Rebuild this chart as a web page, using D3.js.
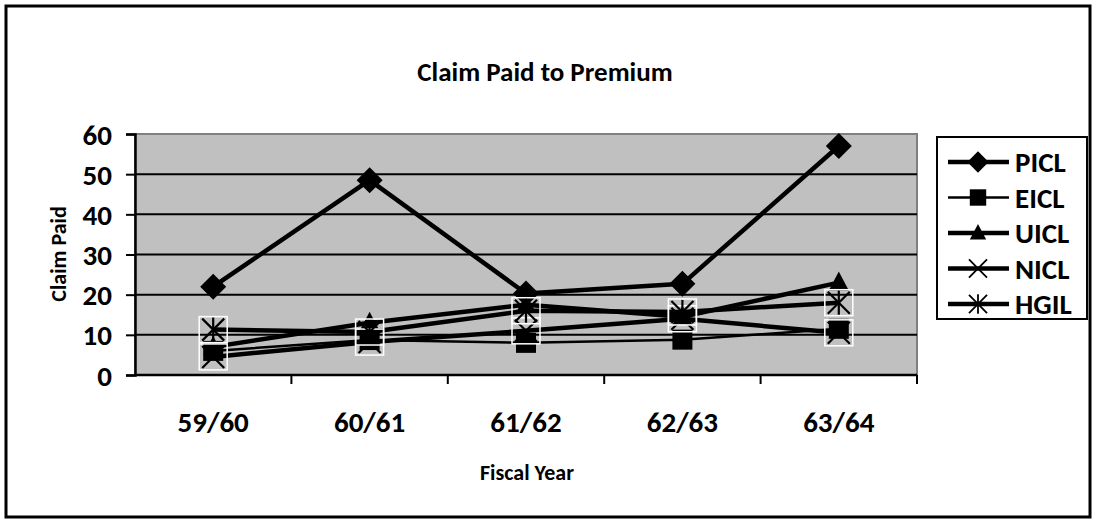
<!DOCTYPE html>
<html>
<head>
<meta charset="utf-8">
<script src="https://cdn.jsdelivr.net/npm/d3@7"></script>
<style>
  html, body { margin: 0; padding: 0; background: #fff; }
  svg { display: block; }
  text { font-family: Carlito, Calibri, Lato, "Liberation Sans", sans-serif; font-weight: bold; fill: #000; }
</style>
</head>
<body>
<svg id="chart" width="1096" height="523"></svg>
<script>
// Fiscal years and claim paid ratios per insurer
const years = ["59/60", "60/61", "61/62", "62/63", "63/64"];
const PICL = [22, 48.5, 20.3, 22.7, 57];
const EICL = [6, 8.7, 8, 8.8, 11.5];
const UICL = [7, 13, 17.5, 14.5, 23];
const NICL = [4.5, 8.2, 11, 14, 10.5];
const HGIL = [11.3, 10.7, 16, 15.7, 18];
const yTicks = [0, 10, 20, 30, 40, 50, 60];

const series = [
  { name: "PICL", values: PICL, marker: "diamond", width: 4.5 },
  { name: "EICL", values: EICL, marker: "square", width: 2.5 },
  { name: "UICL", values: UICL, marker: "triangle", width: 4.5 },
  { name: "NICL", values: NICL, marker: "x", width: 4.5 },
  { name: "HGIL", values: HGIL, marker: "star", width: 4.5 }
];

const svg = d3.select("#chart");
const plot = { left: 135, right: 917, top: 134, bottom: 375 };

// outer chart frame
svg.append("rect").attr("x", 6).attr("y", 6).attr("width", 1084).attr("height", 511)
  .attr("fill", "#fff").attr("stroke", "#000").attr("stroke-width", 3);

svg.append("text").attr("x", 545).attr("y", 81).attr("text-anchor", "middle")
  .style("font-size", "27px").text("Claim Paid to Premium");

const x = d3.scaleBand().domain(years).range([plot.left, plot.right]);
const y = d3.scaleLinear().domain([0, 60]).range([plot.bottom, plot.top]);

// plot area background
svg.append("rect").attr("x", plot.left).attr("y", plot.top)
  .attr("width", plot.right - plot.left).attr("height", plot.bottom - plot.top)
  .attr("fill", "#c0c0c0").attr("stroke", "#808080").attr("stroke-width", 2);

// horizontal gridlines
svg.append("g").selectAll("line").data(yTicks.filter(d => d > 0 && d < 60)).join("line")
  .attr("x1", plot.left).attr("x2", plot.right)
  .attr("y1", d => y(d)).attr("y2", d => y(d))
  .attr("stroke", "#000").attr("stroke-width", 2);

// y axis
const yAxis = svg.append("g").attr("transform", `translate(${plot.left},0)`)
  .call(d3.axisLeft(y).tickValues(yTicks).tickSize(9).tickPadding(14));
yAxis.select(".domain").attr("stroke-width", 2.5);
yAxis.selectAll(".tick line").attr("stroke-width", 2);
yAxis.selectAll(".tick text").style("font-size", "29px").attr("dy", "0.35em");

// x axis: ticks sit on category boundaries
const xAxis = svg.append("g").attr("transform", `translate(0,${plot.bottom})`);
xAxis.append("line").attr("x1", plot.left).attr("x2", plot.right)
  .attr("stroke", "#000").attr("stroke-width", 2.5);
xAxis.selectAll("line.tk").data(years).join("line").attr("class", "tk")
  .attr("x1", d => x(d) + x.bandwidth()).attr("x2", d => x(d) + x.bandwidth())
  .attr("y1", 0).attr("y2", 9).attr("stroke", "#000").attr("stroke-width", 2);
xAxis.selectAll("text").data(years).join("text")
  .attr("x", d => x(d) + x.bandwidth() / 2).attr("y", 57)
  .attr("text-anchor", "middle").style("font-size", "29px").text(d => d);

svg.append("text").attr("x", 527).attr("y", 480).attr("text-anchor", "middle")
  .style("font-size", "22px").text("Fiscal Year");
svg.append("text").attr("transform", "translate(66,254) rotate(-90)")
  .attr("text-anchor", "middle").style("font-size", "22px").text("Claim Paid");

// marker drawing
function drawMarker(g, type, boxed) {
  if (type === "diamond") {
    g.append("path").attr("d", "M0,-13L13,0L0,13L-13,0Z").attr("fill", "#000");
  } else if (type === "square") {
    g.append("rect").attr("x", -10).attr("y", -10).attr("width", 20).attr("height", 20).attr("fill", "#000");
  } else if (type === "triangle") {
    g.append("path").attr("d", "M0,-11L10,8L-10,8Z").attr("fill", "#000");
  } else {
    if (boxed) {
      g.append("rect").attr("x", -14).attr("y", -13).attr("width", 28).attr("height", 26)
        .attr("fill", "none").attr("stroke", "#fff").attr("stroke-width", 1.5);
    }
    const s = 11;
    g.append("path").attr("d", `M${-s},${-s}L${s},${s}M${-s},${s}L${s},${-s}`)
      .attr("stroke", "#000").attr("stroke-width", 2.2);
    if (type === "star") {
      g.append("path").attr("d", `M0,${-s - 1}L0,${s + 1}`).attr("stroke", "#000").attr("stroke-width", 2.2);
    }
  }
}

const line = d3.line().x((d, i) => x(years[i]) + x.bandwidth() / 2).y(d => y(d));

// lines first, then markers on top
series.forEach(s => {
  svg.append("path").datum(s.values).attr("d", line)
    .attr("fill", "none").attr("stroke", "#000").attr("stroke-width", s.width)
    .attr("stroke-linejoin", "round");
});
series.forEach(s => {
  s.values.forEach((v, i) => {
    const g = svg.append("g").attr("transform", `translate(${x(years[i]) + x.bandwidth() / 2},${y(v)})`);
    drawMarker(g, s.marker, true);
  });
});

// legend
const lg = svg.append("g");
lg.append("rect").attr("x", 937).attr("y", 137).attr("width", 150).attr("height", 182)
  .attr("fill", "#fff").attr("stroke", "#000").attr("stroke-width", 2);
series.forEach((s, i) => {
  const cy = 162 + i * 35.5;
  lg.append("line").attr("x1", 948).attr("x2", 1009).attr("y1", cy).attr("y2", cy)
    .attr("stroke", "#000").attr("stroke-width", s.width);
  drawMarker(lg.append("g").attr("transform", `translate(978,${cy}) scale(0.82)`), s.marker, false);
  lg.append("text").attr("x", 1015).attr("y", cy).attr("dy", "0.35em")
    .style("font-size", "29px").text(s.name);
});
</script>
</body>
</html>
